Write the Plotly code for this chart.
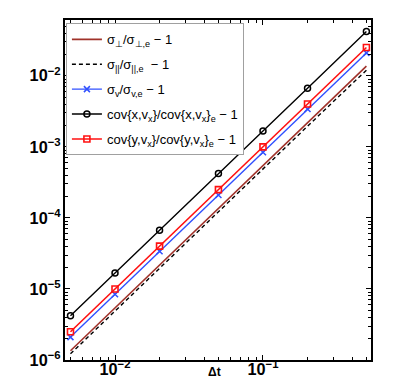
import plotly.graph_objects as go

# time steps
dt = [0.005, 0.01, 0.02, 0.05, 0.1, 0.2, 0.5]

# relative errors
sig_perp = [1.35e-6, 5.4e-6, 2.2e-5, 1.35e-4, 5.4e-4, 2.2e-3, 1.37e-2]
sig_par = [1.22e-6, 4.9e-6, 1.95e-5, 1.2e-4, 4.9e-4, 1.95e-3, 1.2e-2]
sig_v = [2.1e-6, 8.4e-6, 3.4e-5, 2.1e-4, 8.4e-4, 3.4e-3, 2.1e-2]
cov_x = [4.2e-6, 1.67e-5, 6.7e-5, 4.2e-4, 1.67e-3, 6.7e-3, 4.2e-2]
cov_y = [2.5e-6, 1.0e-5, 4.0e-5, 2.5e-4, 1.0e-3, 4.0e-3, 2.5e-2]

names = [
    'σ<sub>⊥</sub>/σ<sub>⊥,e</sub> − 1',
    'σ<sub>||</sub>/σ<sub>||,e</sub>  − 1',
    'σ<sub>v</sub>/σ<sub>v,e</sub> − 1',
    'cov{x,v<sub>x</sub>}/cov{x,v<sub>x</sub>}<sub>e</sub> − 1',
    'cov{y,v<sub>x</sub>}/cov{y,v<sub>x</sub>}<sub>e</sub> − 1',
]

fig = go.Figure()

# each trace in its own legend group so tracegroupgap spaces the entries out
fig.add_trace(go.Scatter(x=dt, y=sig_perp, mode='lines', name=names[0], legendgroup='a',
                         line=dict(color='#a0322a', width=1.6)))
fig.add_trace(go.Scatter(x=dt, y=sig_par, mode='lines', name=names[1], legendgroup='b',
                         line=dict(color='black', width=1.4, dash='4px,3px')))
fig.add_trace(go.Scatter(x=dt, y=sig_v, mode='lines+markers', name=names[2], legendgroup='c',
                         line=dict(color='#3050ff', width=1.4),
                         marker=dict(symbol='x-thin', size=6, line=dict(color='#3050ff', width=1.5))))
fig.add_trace(go.Scatter(x=dt, y=cov_x, mode='lines+markers', name=names[3], legendgroup='d',
                         line=dict(color='black', width=1.4),
                         marker=dict(symbol='circle-open', size=6, line=dict(color='black', width=1.5))))
fig.add_trace(go.Scatter(x=dt, y=cov_y, mode='lines+markers', name=names[4], legendgroup='e',
                         line=dict(color='#ff1010', width=1.6),
                         marker=dict(symbol='square-open', size=6, line=dict(color='#ff1010', width=1.6))))

axis_common = dict(
    type='log', automargin=False,
    showline=True, linecolor='black', linewidth=1.5, mirror='ticks',
    ticks='inside', ticklen=5, tickwidth=1, tickcolor='black',
    showgrid=False, zeroline=False,
    exponentformat='power', dtick=1,
    tickfont=dict(family='Liberation Sans', size=13, color='black', weight='bold'),
    minor=dict(ticks='inside', ticklen=3, tickcolor='black', dtick='D1', showgrid=False),
    fixedrange=True,
)

fig.update_xaxes(axis_common, range=[-2.338, -0.27], ticklabelstandoff=-6)
fig.update_yaxes(axis_common, range=[-6, -1.215])

fig.add_annotation(text='<b>Δt</b>', xref='paper', yref='paper', x=0.49, y=-0.036,
                   xanchor='center', yanchor='middle', showarrow=False,
                   font=dict(family='Liberation Sans', size=12, color='black'))

fig.update_layout(
    width=419, height=379,
    margin=dict(l=57, r=56, t=12, b=27, autoexpand=False),
    plot_bgcolor='white', paper_bgcolor='white',
    font=dict(family='Liberation Sans', size=12, color='black'),
    legend=dict(x=0.003, y=0.99, xanchor='left', yanchor='top',
                bordercolor='#a0a0a0', borderwidth=1, bgcolor='white',
                itemwidth=30, tracegroupgap=5,
                font=dict(family='Liberation Sans', size=13, color='black')),
    showlegend=True,
)

fig.write_html('out.html')
